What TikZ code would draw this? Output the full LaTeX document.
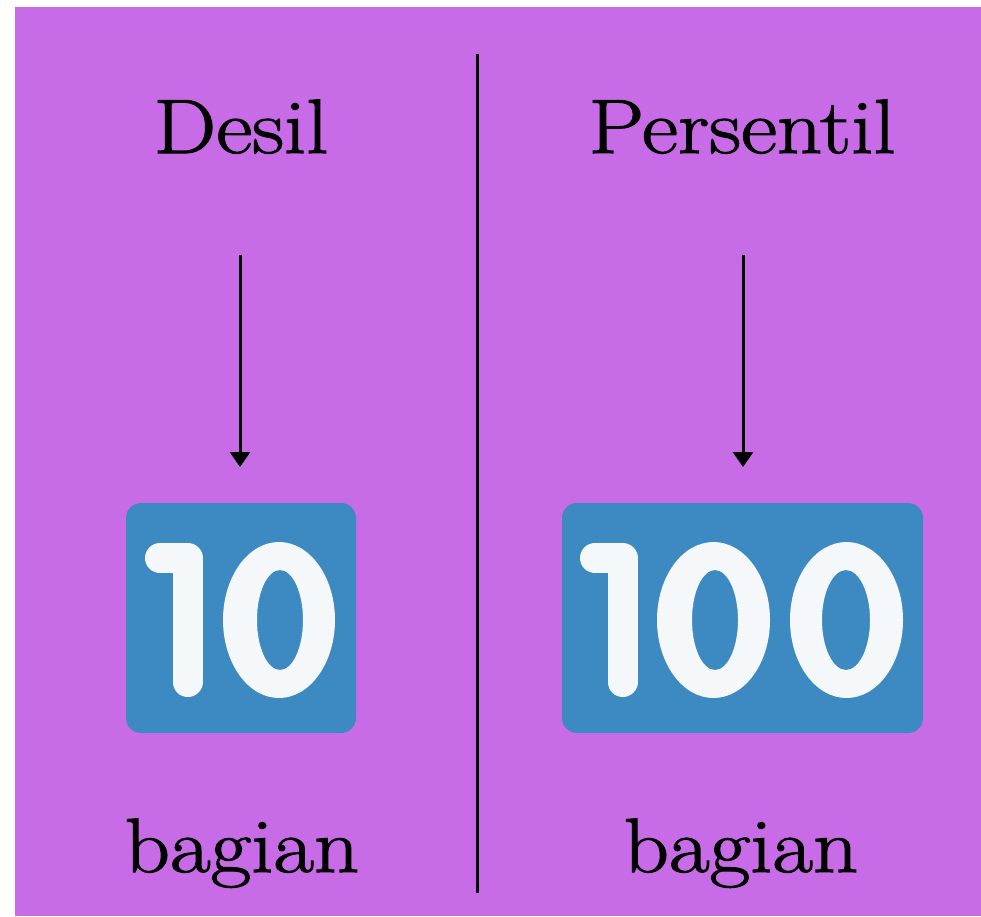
\documentclass[tikz,border=0pt]{standalone}
\usepackage{fontspec}
\newfontfamily\labelfont{Latin Modern Roman}[FakeStretch=1.15,FakeBold=1.5]
\usetikzlibrary{arrows.meta}
\definecolor{bgpurple}{RGB}{200,107,230}
\definecolor{keyblue}{RGB}{61,137,194}
\definecolor{keywhite}{RGB}{245,248,250}
\begin{document}
\begin{tikzpicture}[x=1pt,y=-1pt,
  title/.style={font=\labelfont\fontsize{77}{90}\selectfont, inner sep=0pt, anchor=base, text=black},
  keybox/.style={fill=keyblue, rounded corners=15pt, inner sep=0pt, draw=none},
  arr/.style={line width=3pt, -{Triangle[width=20pt,length=15pt]}},
  divider/.style={line width=3pt},
  one/.style={draw=keywhite, line width=30pt, line cap=round, line join=round},
  zero/.style={fill=keywhite, even odd rule}]
\useasboundingbox (0,0) rectangle (981,916);
\fill[white] (0,0) rectangle (981,916);
\fill[bgpurple] (15,7) rectangle (981,916);
% titles
\node[title] (desil) at (241,153) {Desil};
\node[title] (persentil) at (742,153) {Persentil};
% divider
\coordinate (divtop) at (477.5,54);
\coordinate (divbot) at (477.5,893);
\draw[divider] (divtop) -- (divbot);
% boxes
\node[keybox, minimum width=230pt, minimum height=230pt] (box10) at (241,618) {};
\node[keybox, minimum width=361pt, minimum height=230pt] (box100) at (742.5,618) {};
% arrows
\coordinate (a1s) at (240,255);
\coordinate (a1e) at (240,467);
\coordinate (a2s) at (743,255);
\coordinate (a2e) at (743,467);
\draw[arr] (a1s) -- (a1e);
\draw[arr] (a2s) -- (a2e);
% digits 10
\draw[one] (160,558) -- (187.5,558) -- (187.5,682);
\fill[zero] (279,620) ellipse [x radius=56, y radius=78] (280,620) ellipse [x radius=23, y radius=50];
% digits 100
\draw[one] (595,558) -- (622.5,558) -- (622.5,682);
\fill[zero] (713.5,620) ellipse [x radius=56.5, y radius=78] (715,620) ellipse [x radius=23, y radius=50];
\fill[zero] (846.5,620) ellipse [x radius=56.5, y radius=78] (846,620) ellipse [x radius=24, y radius=50];
% bottom labels
\node[title] (bag1) at (242,872) {bagian};
\node[title] (bag2) at (741,872) {bagian};
\end{tikzpicture}
\end{document}
